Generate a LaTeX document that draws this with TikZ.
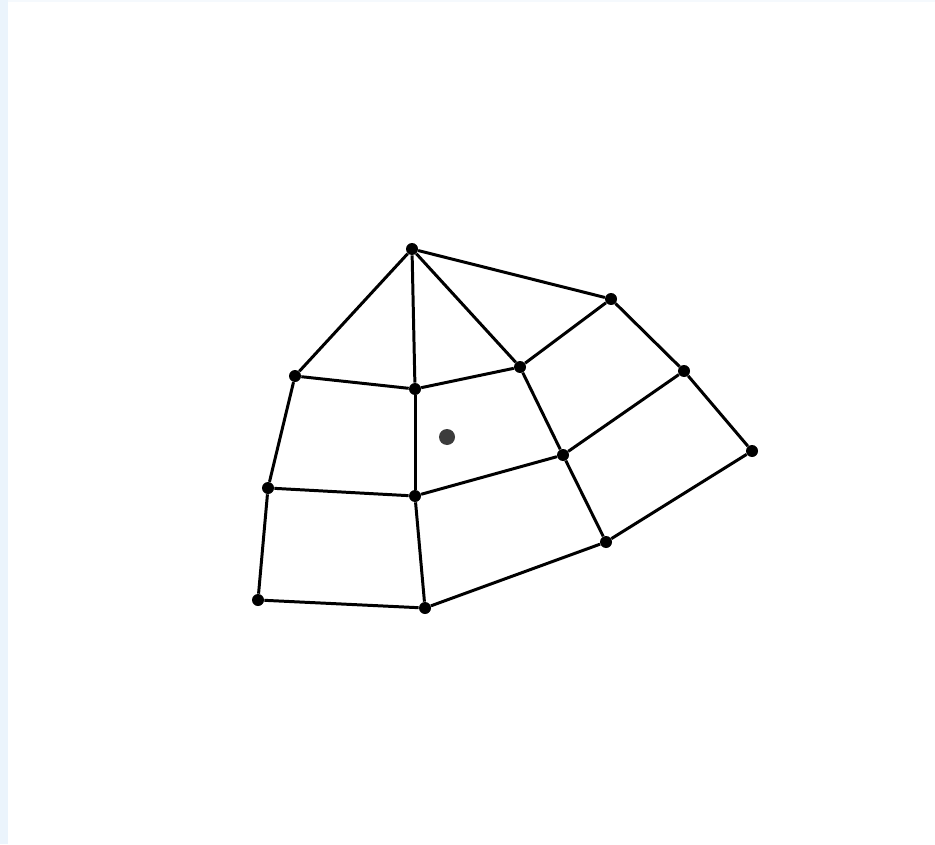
\documentclass[tikz,border=0pt]{standalone}
\usepackage{tikz}
\usetikzlibrary{positioning}
\usepackage{xcolor}
\definecolor{edge}{RGB}{235,244,252}
\definecolor{probe}{RGB}{60,60,60}

\begin{document}
\begin{tikzpicture}[
    x=0.02cm, y=-0.02cm,
    vtx/.style={circle, fill=black, inner sep=0pt, minimum size=0.24cm},
    probe/.style={circle, fill=probe, inner sep=0pt, minimum size=0.32cm},
    mesh/.style={line width=1.7pt, black},
]
\useasboundingbox (0,0) rectangle (935,844);
\fill[edge] (0,0) rectangle (8,844);
\fill[edge!50] (8,0) rectangle (935,2);

% vertices
\node[vtx] (top) at (412,249) {};
\node[vtx] (r1) at (611,299) {};
\node[vtx] (r2) at (684,371) {};
\node[vtx] (r3) at (752,451) {};
\node[vtx] (a1) at (295,376) {};
\node[vtx] (a2) at (415,389) {};
\node[vtx] (a3) at (520,367) {};
\node[vtx] (b1) at (268,488) {};
\node[vtx] (b2) at (415,496) {};
\node[vtx] (b3) at (563,455) {};
\node[vtx] (b4) at (606,542) {};
\node[vtx] (c1) at (258,600) {};
\node[vtx] (c2) at (425,608) {};
\node[probe] (pt) at (447,437) {};

% Edges
\draw[mesh] (top) -- (r1);
\draw[mesh] (top) -- (a1);
\draw[mesh] (top) -- (a2);
\draw[mesh] (top) -- (a3);
\draw[mesh] (r1) -- (a3);
\draw[mesh] (r1) -- (r2);
\draw[mesh] (r2) -- (r3);
\draw[mesh] (r2) -- (b3);
\draw[mesh] (r3) -- (b4);
\draw[mesh] (a1) -- (a2);
\draw[mesh] (a2) -- (a3);
\draw[mesh] (a1) -- (b1);
\draw[mesh] (a2) -- (b2);
\draw[mesh] (a3) -- (b3);
\draw[mesh] (b1) -- (b2);
\draw[mesh] (b2) -- (b3);
\draw[mesh] (b3) -- (b4);
\draw[mesh] (b1) -- (c1);
\draw[mesh] (b2) -- (c2);
\draw[mesh] (c1) -- (c2);
\draw[mesh] (c2) -- (b4);

\end{tikzpicture}
\end{document}
